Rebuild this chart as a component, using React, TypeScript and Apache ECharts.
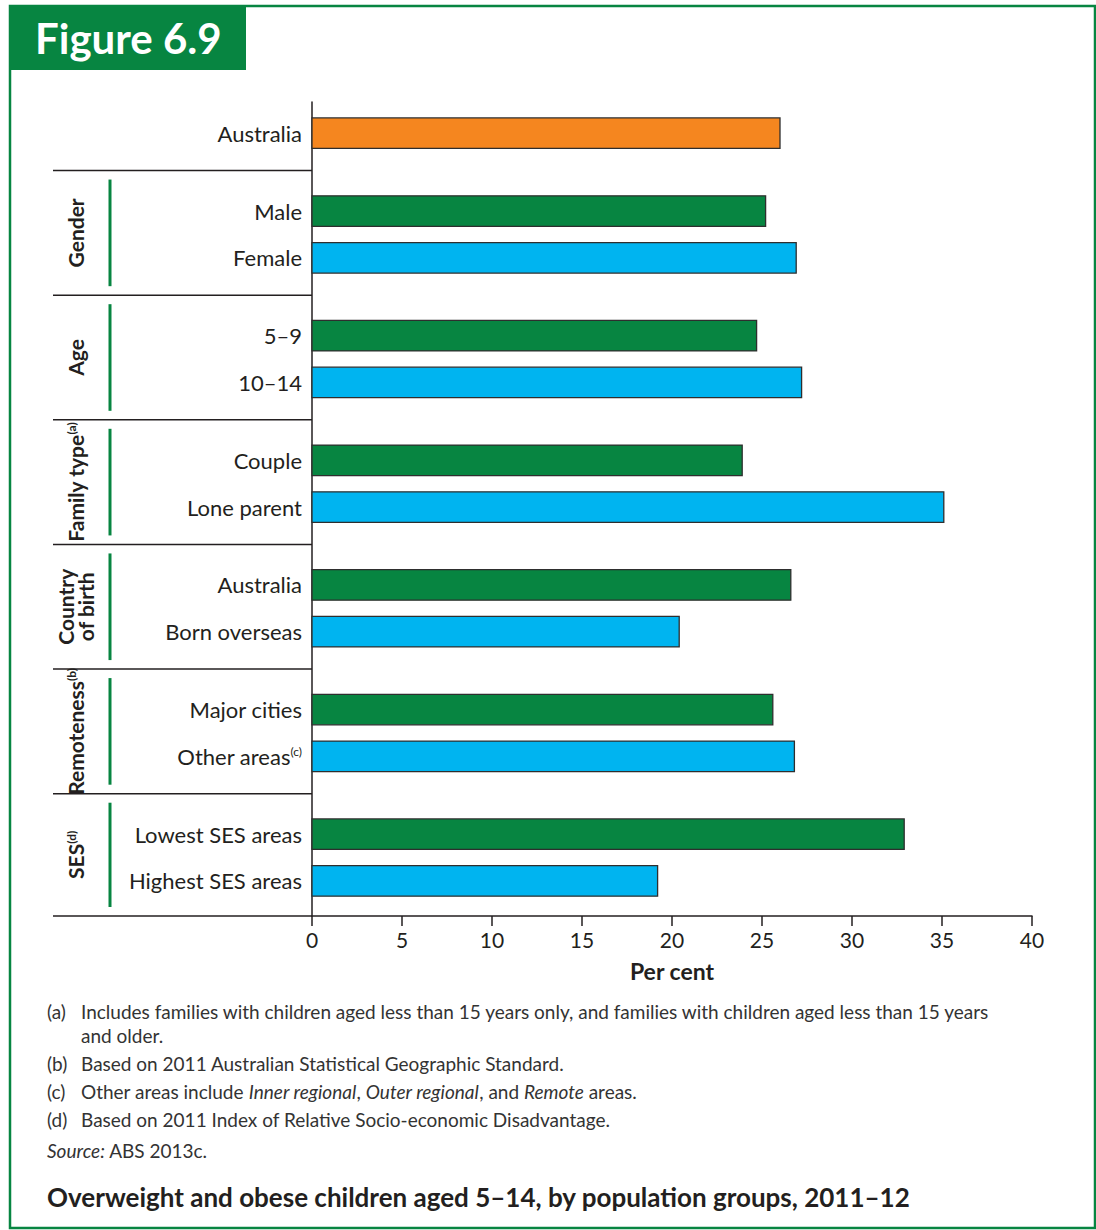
import { useEffect, useRef } from 'react';
import * as echarts from 'echarts';

// Overweight and obese children aged 5–14, by population group (per cent)
const categories = [
  'Australia',
  'Male',
  'Female',
  '5–9',
  '10–14',
  'Couple',
  'Lone parent',
  'Australia',
  'Born overseas',
  'Major cities',
  'Other areas',
  'Lowest SES areas',
  'Highest SES areas',
];
const categoryNotes = ['', '', '', '', '', '', '', '', '', '', 'c', '', ''];
const values = [26.0, 25.2, 26.9, 24.7, 27.2, 23.9, 35.1, 26.6, 20.4, 25.6, 26.8, 32.9, 19.2];
const groupOf = [0, 1, 1, 2, 2, 3, 3, 4, 4, 5, 5, 6, 6];
const groupLabels = ['', 'Gender', 'Age', 'Family type', 'Country\nof birth', 'Remoteness', 'SES'];
const groupNotes = ['', '', '', 'a', '', 'b', 'd'];

const xMin = 0;
const xMax = 40;
const xStep = 5;

const footnotes = [
  ['(a)', 'Includes families with children aged less than 15 years only, and families with children aged less than 15 years'],
  ['', 'and older.'],
  ['(b)', 'Based on 2011 Australian Statistical Geographic Standard.'],
  ['(c)', 'Other areas include {i|Inner regional}, {i|Outer regional}, and {i|Remote} areas.'],
  ['(d)', 'Based on 2011 Index of Relative Socio-economic Disadvantage.'],
];
const sourceNote = '{i|Source:} ABS 2013c.';
const figureLabel = 'Figure 6.9';
const figureTitle = 'Overweight and obese children aged 5–14, by population groups, 2011–12';

const GREEN = '#078541';
const BLUE = '#00b4f0';
const ORANGE = '#f5861f';
const INK = '#231f20';
const NOTE_INK = '#333333';
const FONT = 'Lato, "Open Sans", sans-serif';

// bar rows sit 3 slots apart inside a group and 5 slots apart between groups
const slots: number[] = [];
groupOf.forEach((g, i) => {
  slots.push(i === 0 ? 0 : slots[i - 1] + (g === groupOf[i - 1] ? 3 : 5));
});
const lastSlot = slots[slots.length - 1];

function barColor(i: number) {
  if (groupOf[i] === 0) return ORANGE;
  return groupOf[i - 1] === groupOf[i] ? BLUE : GREEN;
}

export default function App() {
  const ref = useRef<HTMLDivElement>(null);

  useEffect(() => {
    document.body.style.margin = '0';
    const chart = echarts.init(ref.current!, null, { renderer: 'svg' });

    const option: any = {
      animation: false,
      backgroundColor: '#ffffff',
      grid: { left: 312, right: 64, top: 102, bottom: 314, containLabel: false },
      xAxis: {
        type: 'value',
        position: 'bottom',
        min: xMin,
        max: xMax,
        interval: xStep,
        name: 'Per cent',
        nameLocation: 'middle',
        nameGap: 43,
        nameTextStyle: { fontFamily: FONT, fontSize: 23, fontWeight: 'bold', color: INK },
        axisLine: { show: true, onZero: false, lineStyle: { color: INK, width: 1.5 } },
        axisTick: { show: true, length: 10, lineStyle: { color: INK, width: 1.5 } },
        axisLabel: { fontFamily: FONT, fontSize: 21, color: INK, margin: 13 },
        splitLine: { show: false },
      },
      yAxis: {
        type: 'value',
        inverse: true,
        min: -2,
        max: lastSlot + 2.25,
        interval: 1,
        axisLine: { show: true, onZero: false, lineStyle: { color: INK, width: 1.5 } },
        axisTick: { show: false },
        splitLine: { show: false },
        axisLabel: {
          margin: 10,
          fontFamily: FONT,
          fontSize: 22,
          color: INK,
          formatter: (v: number) => {
            const i = slots.indexOf(v);
            if (i < 0) return '';
            return categoryNotes[i] ? `${categories[i]}{sup|(${categoryNotes[i]})}` : categories[i];
          },
          rich: {
            sup: { fontFamily: FONT, fontSize: 12, color: INK, verticalAlign: 'top', lineHeight: 22 },
          },
        },
      },
      series: [
        {
          type: 'custom',
          encode: { x: 0, y: 1 },
          data: values.map((v, i) => [v, slots[i], i]),
          renderItem: (_params: any, api: any) => {
            const i = api.value(2);
            const start = api.coord([0, api.value(1)]);
            const end = api.coord([api.value(0), api.value(1)]);
            const h = 30.5;
            return {
              type: 'rect',
              shape: { x: start[0], y: start[1] - h / 2, width: end[0] - start[0], height: h },
              style: { fill: barColor(i), stroke: '#2e2e2e', lineWidth: 1.3 },
            };
          },
        },
      ],
    };
    chart.setOption(option);

    // group separators, group titles and green brackets on the left
    const yPix = (s: number) => chart.convertToPixel({ yAxisIndex: 0 }, s) as number;
    const bottomY = yPix(lastSlot + 2.25);
    const graphics: any[] = [];
    const groupIds = Array.from(new Set(groupOf));
    const bounds: number[] = [];
    groupIds.forEach((g, gi) => {
      if (gi === 0) return;
      const prevLast = slots[groupOf.lastIndexOf(groupIds[gi - 1])];
      bounds.push(yPix(prevLast + 2.4));
    });
    bounds.push(bottomY);

    bounds.forEach((y) => {
      graphics.push({
        type: 'line',
        shape: { x1: 53, y1: y, x2: 312, y2: y },
        style: { stroke: INK, lineWidth: 1.5 },
      });
    });

    groupIds.forEach((g, gi) => {
      if (gi === 0) return;
      const top = bounds[gi - 1];
      const bottom = bounds[gi];
      graphics.push({
        type: 'line',
        shape: { x1: 110, y1: top + 9, x2: 110, y2: bottom - 9 },
        style: { stroke: GREEN, lineWidth: 3 },
      });
      const note = groupNotes[g];
      graphics.push({
        type: 'text',
        x: 75,
        y: (top + bottom) / 2,
        rotation: Math.PI / 2,
        style: {
          text: note ? `${groupLabels[g]}{sup|(${note})}` : groupLabels[g],
          align: 'center',
          verticalAlign: 'middle',
          fontFamily: FONT,
          fontSize: 21,
          fontWeight: 'bold',
          lineHeight: 20,
          fill: INK,
          rich: {
            sup: { fontFamily: FONT, fontSize: 12, fontWeight: 'bold', fill: INK, verticalAlign: 'top', lineHeight: 20 },
          },
        },
      });
    });

    // frame and figure tab
    graphics.push({
      type: 'rect',
      shape: { x: 10, y: 6, width: 1085, height: 1222 },
      style: { fill: 'none', stroke: GREEN, lineWidth: 2.5 },
    });
    graphics.push({
      type: 'rect',
      shape: { x: 10, y: 6, width: 236, height: 64 },
      style: { fill: GREEN },
    });
    graphics.push({
      type: 'text',
      x: 35,
      y: 38,
      style: {
        text: figureLabel,
        fontFamily: FONT,
        fontSize: 42,
        fontWeight: 'bold',
        fill: '#ffffff',
        verticalAlign: 'middle',
      },
    });

    // footnotes
    const noteRows = [1011, 1035, 1063, 1091, 1119];
    footnotes.forEach(([tag, body], k) => {
      if (tag) {
        graphics.push({
          type: 'text',
          x: 47,
          y: noteRows[k],
          style: { text: tag, fontFamily: FONT, fontSize: 19, fill: NOTE_INK, verticalAlign: 'middle' },
        });
      }
      graphics.push({
        type: 'text',
        x: 81,
        y: noteRows[k],
        style: {
          text: body,
          fontFamily: FONT,
          fontSize: 19,
          fill: NOTE_INK,
          verticalAlign: 'middle',
          rich: { i: { fontFamily: FONT, fontSize: 19, fontStyle: 'italic', fill: NOTE_INK } },
        },
      });
    });
    graphics.push({
      type: 'text',
      x: 47,
      y: 1150,
      style: {
        text: sourceNote,
        fontFamily: FONT,
        fontSize: 19,
        fill: NOTE_INK,
        verticalAlign: 'middle',
        rich: { i: { fontFamily: FONT, fontSize: 19, fontStyle: 'italic', fill: NOTE_INK } },
      },
    });
    graphics.push({
      type: 'text',
      x: 47,
      y: 1197,
      style: {
        text: figureTitle,
        fontFamily: FONT,
        fontSize: 26,
        fontWeight: 'bold',
        fill: INK,
        verticalAlign: 'middle',
      },
    });

    chart.setOption({ graphic: graphics });

    return () => chart.dispose();
  }, []);

  return <div ref={ref} style={{ width: 1096, height: 1230 }} />;
}
